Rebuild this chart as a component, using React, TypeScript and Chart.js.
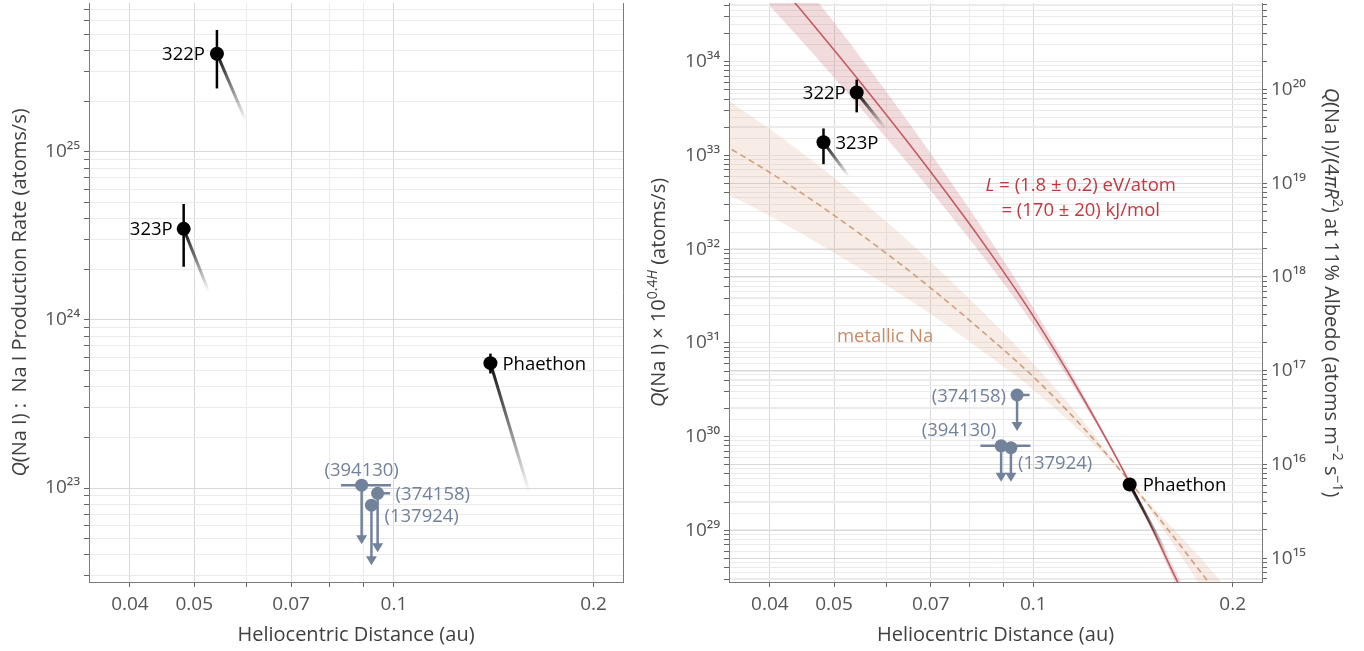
import React, { useEffect, useRef } from 'react';
import { Chart, registerables } from 'chart.js';

Chart.register(...registerables);

const FONT = "'Open Sans', 'DejaVu Sans', sans-serif";
const SUPS = '⁰¹²³⁴⁵⁶⁷⁸⁹';
const sup = (n: number) => String(n).split('').map((d) => SUPS[+d]).join('');

// ---------- axes ----------
const xMin = 0.0347;
const xMax = 0.2215;
const xTickValues = [0.04, 0.05, 0.06, 0.07, 0.08, 0.09, 0.1, 0.2];
const xTickLabels = ['0.04', '0.05', '', '0.07', '', '', '0.1', '0.2'];
const leftYMin = 2.76e22;
const leftYMax = 7.67e25;
const rightYMin = 2.81e28;
const rightYMax = 4.23e34;
const albedoYMin = 5.56e14;
const albedoYMax = 8.38e20;

// ---------- comets / Phaethon ----------
const objectNames = ['322P', '323P', 'Phaethon'];
const objectDist = [0.0541, 0.0482, 0.1398];
const tailDist = [0.0598, 0.0526, 0.16];
const leftQ = [3.83e25, 3.48e24, 5.53e23];
const leftQHigh = [5.3e25, 4.89e24, 6.3e23];
const leftQLow = [2.38e25, 2.07e24, 4.8e23];
const leftTailQ = [1.53e25, 1.47e24, 9.4e22];
const rightQ = [4.69e33, 1.38e33, 3.08e29];
const rightQHigh = [6.44e33, 1.94e33, 3.3e29];
const rightQLow = [2.88e33, 8.07e32, 2.9e29];
const rightTailQ = [1.94e33, 6.0e32, 5.2e28];

// ---------- upper limits ----------
const limitNames = ['(394130)', '(374158)', '(137924)'];
const limitDist = [0.0894, 0.0945, 0.0925];
const limitDistLow = [0.0832, 0.0945, 0.0925];
const limitDistHigh = [0.099, 0.0987, 0.0925];
const leftLimitQ = [1.04e23, 9.3e22, 7.9e22];
const leftLimitTip = [4.63e22, 4.15e22, 3.47e22];
const rightLimitQ = [7.98e29, 2.78e30, 7.6e29];
const rightLimitTip = [3.3e29, 1.15e30, 3.3e29];

// ---------- model curves (right panel) ----------
const sublimX = [0.04, 0.0447, 0.0551, 0.07, 0.0862, 0.0997, 0.1185, 0.1395, 0.1648, 0.175];
const sublimQ = [8.81e34, 3.47e34, 5.74e33, 6.65e32, 9.02e31, 1.99e31, 2.68e30, 3.31e29, 2.9e28, 1.17e28];
const sublimQHigh = [1.97e35, 7.24e34, 1.07e34, 1.05e33, 1.24e32, 2.44e31, 2.97e30, 3.39e29, 3.41e28, 1.47e28];
const sublimQLow = [3.94e34, 1.66e34, 3.08e33, 4.2e32, 6.53e31, 1.61e31, 2.42e30, 3.24e29, 2.47e28, 9.29e27];

const metalX = [0.033, 0.0348, 0.0407, 0.0485, 0.0597, 0.07, 0.0904, 0.0997, 0.1185, 0.1395, 0.1829, 0.2];
const metalQ = [1.48e33, 1.19e33, 6.08e32, 2.67e32, 9.25e31, 3.85e31, 8.3e30, 4.44e30, 1.28e30, 3.36e29, 2.94e28, 1.25e28];
const metalQHigh = [4.91e33, 3.77e33, 1.75e33, 6.86e32, 2.02e32, 7.33e31, 1.26e31, 6.12e30, 1.52e30, 3.44e29, 4.25e28, 1.98e28];
const metalQLow = [4.48e32, 3.77e32, 2.11e32, 1.04e32, 4.23e31, 2.02e31, 5.48e30, 3.21e30, 1.08e30, 3.28e29, 2.03e28, 7.87e27];

// ---------- annotations (right panel, data coordinates) ----------
const noteX = [0.0847, 0.0895, 0.0505];
const noteQ = [4.94e32, 2.69e32, 1.2e31];

// ---------- styles ----------
const BLACK = '#000000';
const SLATE = '#72829a';
const RED_LINE = '#c45a62';
const RED_BAND = 'rgba(196, 90, 98, 0.22)';
const TAN_LINE = '#d39c7b';
const TAN_BAND = 'rgba(214, 160, 130, 0.2)';
const RED_TEXT = '#c6363f';
const TAN_TEXT = '#c98b68';
const AXIS_TEXT = '#555555';
const TITLE_TEXT = '#404040';
const GRID_MAJOR = '#d9d9d9';
const GRID_MINOR = '#ebebeb';
const FRAME = '#7a7a7a';
const PAD = 4; // y tick padding = chart-area top offset

type Seg = { t: string; i?: boolean; s?: boolean };

function drawRich(
  ctx: CanvasRenderingContext2D,
  segs: Seg[],
  x: number,
  y: number,
  size: number,
  color: string,
  align: 'left' | 'center' | 'right',
  rot = 0
) {
  const fontOf = (g: Seg) => `${g.i ? 'italic ' : ''}${g.s ? Math.round(size * 0.68) : size}px ${FONT}`;
  ctx.save();
  ctx.translate(x, y);
  if (rot) ctx.rotate(rot);
  let w = 0;
  for (const g of segs) {
    ctx.font = fontOf(g);
    w += ctx.measureText(g.t).width;
  }
  let cx = align === 'left' ? 0 : align === 'center' ? -w / 2 : -w;
  ctx.fillStyle = color;
  ctx.textAlign = 'left';
  ctx.textBaseline = 'alphabetic';
  const base = size * 0.36;
  for (const g of segs) {
    ctx.font = fontOf(g);
    ctx.fillText(g.t, cx, g.s ? base - size * 0.42 : base);
    cx += ctx.measureText(g.t).width;
  }
  ctx.restore();
}

function logTickList(min: number, max: number) {
  const out: { value: number; major: boolean }[] = [];
  const e0 = Math.floor(Math.log10(min));
  const e1 = Math.ceil(Math.log10(max));
  for (let e = e0; e <= e1; e++) {
    for (let m = 1; m <= 9; m++) {
      const v = Number(`${m}e${e}`);
      if (v >= min && v <= max) out.push({ value: v, major: m === 1 });
    }
  }
  return out;
}

const gridColor = (c: any) => (c.tick && c.tick.major ? GRID_MAJOR : GRID_MINOR);
const tickFont = (size: number) => (c: any) => ({
  family: FONT,
  size,
  lineHeight: c.tick && c.tick.major ? 1.2 : 0,
});

function xScale() {
  return {
    type: 'logarithmic',
    min: xMin,
    max: xMax,
    bounds: 'data',
    afterBuildTicks: (s: any) => {
      s.ticks = xTickValues.map((v, i) => ({ value: v, major: xTickLabels[i] !== '' }));
    },
    afterFit: (s: any) => {
      s.height = 69;
    },
    ticks: {
      autoSkip: false,
      maxRotation: 0,
      padding: 6,
      color: AXIS_TEXT,
      font: tickFont(19),
      callback: (_v: any, i: number) => xTickLabels[i],
    },
    grid: { color: gridColor, tickLength: 5, tickColor: '#666666', lineWidth: 1 },
    border: { color: FRAME, z: 1 },
  };
}

function yScale(min: number, max: number, position: 'left' | 'right', width: number, drawGrid = true) {
  return {
    type: 'logarithmic',
    position,
    min,
    max,
    bounds: 'data',
    afterBuildTicks: (s: any) => {
      s.ticks = logTickList(min, max);
    },
    afterFit: (s: any) => {
      s.width = width;
    },
    ticks: {
      autoSkip: false,
      padding: PAD,
      color: AXIS_TEXT,
      font: tickFont(19),
      callback: (v: number, i: number, ticks: any[]) =>
        ticks[i] && ticks[i].major ? '10' + sup(Math.round(Math.log10(v))) : '',
    },
    grid: {
      color: gridColor,
      tickLength: 5,
      tickColor: '#666666',
      lineWidth: 1,
      drawOnChartArea: drawGrid,
    },
    border: { color: FRAME, z: 1 },
  };
}

function panelPlugin(panel: 'left' | 'right') {
  const isLeft = panel === 'left';
  const Q = isLeft ? leftQ : rightQ;
  const QHi = isLeft ? leftQHigh : rightQHigh;
  const QLo = isLeft ? leftQLow : rightQLow;
  const tailQ = isLeft ? leftTailQ : rightTailQ;
  const limQ = isLeft ? leftLimitQ : rightLimitQ;
  const limTip = isLeft ? leftLimitTip : rightLimitTip;
  const objDx = isLeft ? [-12, -11, 12] : [-11, 12, 13];
  const objAlign: any[] = isLeft ? ['right', 'right', 'left'] : ['right', 'left', 'left'];
  const limDx = isLeft ? [0, 18, 13] : [-5, -11, 7];
  const limDy = isLeft ? [-16, 0, 10] : [-16, 0, 15];
  const limAlign: any[] = isLeft ? ['center', 'left', 'left'] : ['right', 'right', 'left'];

  return {
    id: 'panel-' + panel,
    beforeDatasetDraw(chart: any, args: any) {
      const ds = chart.data.datasets[args.index];
      if (ds.label !== 'objects' && ds.label !== 'limits') return;
      const ctx: CanvasRenderingContext2D = chart.ctx;
      const xs = chart.scales.x;
      const ys = chart.scales.y;
      const a = chart.chartArea;
      ctx.save();
      ctx.beginPath();
      ctx.rect(a.left, a.top, a.right - a.left, a.bottom - a.top);
      ctx.clip();
      if (ds.label === 'objects') {
        for (let i = 0; i < objectNames.length; i++) {
          const x0 = xs.getPixelForValue(objectDist[i]);
          const y0 = ys.getPixelForValue(Q[i]);
          const x1 = xs.getPixelForValue(tailDist[i]);
          const y1 = ys.getPixelForValue(tailQ[i]);
          const g = ctx.createLinearGradient(x0, y0, x1, y1);
          g.addColorStop(0, 'rgba(0,0,0,0.95)');
          g.addColorStop(1, 'rgba(0,0,0,0)');
          ctx.strokeStyle = g;
          ctx.lineWidth = 3;
          ctx.lineCap = 'butt';
          ctx.beginPath();
          ctx.moveTo(x0, y0);
          ctx.lineTo(x1, y1);
          ctx.stroke();
          ctx.strokeStyle = BLACK;
          ctx.lineWidth = 2.5;
          ctx.beginPath();
          ctx.moveTo(x0, ys.getPixelForValue(QHi[i]));
          ctx.lineTo(x0, ys.getPixelForValue(QLo[i]));
          ctx.stroke();
        }
      } else {
        for (let i = 0; i < limitNames.length; i++) {
          const x0 = xs.getPixelForValue(limitDist[i]);
          const y0 = ys.getPixelForValue(limQ[i]);
          const yt = ys.getPixelForValue(limTip[i]);
          ctx.strokeStyle = SLATE;
          ctx.fillStyle = SLATE;
          ctx.lineWidth = 2.5;
          ctx.beginPath();
          ctx.moveTo(xs.getPixelForValue(limitDistLow[i]), y0);
          ctx.lineTo(xs.getPixelForValue(limitDistHigh[i]), y0);
          ctx.stroke();
          ctx.beginPath();
          ctx.moveTo(x0, y0);
          ctx.lineTo(x0, yt - 8);
          ctx.stroke();
          ctx.beginPath();
          ctx.moveTo(x0 - 5.5, yt - 9);
          ctx.lineTo(x0 + 5.5, yt - 9);
          ctx.lineTo(x0, yt);
          ctx.closePath();
          ctx.fill();
        }
      }
      ctx.restore();
    },
    afterDatasetsDraw(chart: any) {
      const ctx: CanvasRenderingContext2D = chart.ctx;
      const xs = chart.scales.x;
      const ys = chart.scales.y;
      const a = chart.chartArea;
      if (isLeft) {
        ctx.save();
        ctx.strokeStyle = FRAME;
        ctx.lineWidth = 1;
        ctx.beginPath();
        ctx.moveTo(Math.round(a.right) + 0.5, a.top);
        ctx.lineTo(Math.round(a.right) + 0.5, a.bottom);
        ctx.stroke();
        ctx.restore();
      }
      for (let i = 0; i < objectNames.length; i++) {
        drawRich(
          ctx,
          [{ t: objectNames[i] }],
          xs.getPixelForValue(objectDist[i]) + objDx[i],
          ys.getPixelForValue(Q[i]),
          18.5,
          BLACK,
          objAlign[i]
        );
      }
      for (let i = 0; i < limitNames.length; i++) {
        drawRich(
          ctx,
          [{ t: limitNames[i] }],
          xs.getPixelForValue(limitDist[i]) + limDx[i],
          ys.getPixelForValue(limQ[i]) + limDy[i],
          18.5,
          SLATE,
          limAlign[i]
        );
      }
      if (!isLeft) {
        drawRich(ctx, [{ t: 'L', i: true }, { t: ' = (1.8 ± 0.2) eV/atom' }],
          xs.getPixelForValue(noteX[0]), ys.getPixelForValue(noteQ[0]), 18.5, RED_TEXT, 'left');
        drawRich(ctx, [{ t: '= (170 ± 20) kJ/mol' }],
          xs.getPixelForValue(noteX[1]), ys.getPixelForValue(noteQ[1]), 18.5, RED_TEXT, 'left');
        drawRich(ctx, [{ t: 'metallic Na' }],
          xs.getPixelForValue(noteX[2]), ys.getPixelForValue(noteQ[2]), 18.5, TAN_TEXT, 'left');
      }
    },
    afterDraw(chart: any) {
      const ctx: CanvasRenderingContext2D = chart.ctx;
      const a = chart.chartArea;
      const cy = (a.top + a.bottom) / 2;
      drawRich(ctx, [{ t: 'Heliocentric Distance (au)' }], (a.left + a.right) / 2, PAD + 634, 20, TITLE_TEXT, 'center');
      if (isLeft) {
        drawRich(
          ctx,
          [{ t: 'Q', i: true }, { t: '(Na I) :  Na I Production Rate (atoms/s)' }],
          19, cy, 20, TITLE_TEXT, 'center', -Math.PI / 2
        );
      } else {
        drawRich(
          ctx,
          [{ t: 'Q', i: true }, { t: '(Na I) × 10' }, { t: '0.4', s: true }, { t: 'H', s: true, i: true }, { t: ' (atoms/s)' }],
          18, cy, 20, TITLE_TEXT, 'center', -Math.PI / 2
        );
        drawRich(
          ctx,
          [
            { t: 'Q', i: true },
            { t: '(Na I)/(4' },
            { t: 'π', i: true },
            { t: 'R', i: true },
            { t: '2', s: true },
            { t: ') at 11% Albedo (atoms m' },
            { t: '−2', s: true },
            { t: ' s' },
            { t: '−1', s: true },
            { t: ')' },
          ],
          692, cy, 20, TITLE_TEXT, 'center', Math.PI / 2
        );
      }
    },
  };
}

const pts = (xs: number[], ys: number[]) => xs.map((x, i) => ({ x, y: ys[i] }));

function objectDatasets(panel: 'left' | 'right') {
  const Q = panel === 'left' ? leftQ : rightQ;
  const L = panel === 'left' ? leftLimitQ : rightLimitQ;
  return [
    {
      label: 'objects',
      data: pts(objectDist, Q),
      showLine: false,
      pointRadius: 7,
      pointHoverRadius: 7,
      pointBackgroundColor: BLACK,
      pointBorderWidth: 0,
      borderColor: BLACK,
    },
    {
      label: 'limits',
      data: pts(limitDist, L),
      showLine: false,
      pointRadius: 6.5,
      pointHoverRadius: 6.5,
      pointBackgroundColor: SLATE,
      pointBorderWidth: 0,
      borderColor: SLATE,
    },
  ];
}

function leftConfig(): any {
  return {
    type: 'line',
    data: { datasets: objectDatasets('left') },
    options: {
      responsive: false,
      animation: false,
      devicePixelRatio: 1,
      layout: { padding: { left: 0, right: 17, top: 0, bottom: 0 } },
      plugins: { legend: { display: false }, tooltip: { enabled: false } },
      events: [],
      scales: {
        x: xScale(),
        y: yScale(leftYMin, leftYMax, 'left', 89),
      },
    },
    plugins: [panelPlugin('left')],
  };
}

function rightConfig(): any {
  const curve = (label: string, xs: number[], ys: number[], color: string, dash: number[]) => ({
    label,
    data: pts(xs, ys),
    borderColor: color,
    borderWidth: 1.6,
    borderDash: dash,
    pointRadius: 0,
    fill: false,
    cubicInterpolationMode: 'monotone',
  });
  const edge = (label: string, xs: number[], ys: number[], fill: any, bg: string) => ({
    label,
    data: pts(xs, ys),
    borderWidth: 0,
    borderColor: 'rgba(0,0,0,0)',
    backgroundColor: bg,
    pointRadius: 0,
    fill,
    cubicInterpolationMode: 'monotone',
  });
  return {
    type: 'line',
    data: {
      datasets: [
        ...objectDatasets('right'),
        curve('sublimation', sublimX, sublimQ, RED_LINE, []),
        curve('metallic', metalX, metalQ, TAN_LINE, [6, 4]),
        edge('sublimation-high', sublimX, sublimQHigh, '+1', RED_BAND),
        edge('sublimation-low', sublimX, sublimQLow, false, RED_BAND),
        edge('metallic-high', metalX, metalQHigh, '+1', TAN_BAND),
        edge('metallic-low', metalX, metalQLow, false, TAN_BAND),
      ],
    },
    options: {
      responsive: false,
      animation: false,
      devicePixelRatio: 1,
      layout: { padding: { left: 0, right: 0, top: 0, bottom: 0 } },
      plugins: { legend: { display: false }, tooltip: { enabled: false } },
      events: [],
      scales: {
        x: xScale(),
        y: yScale(rightYMin, rightYMax, 'left', 89),
        y2: yScale(albedoYMin, albedoYMax, 'right', 102),
      },
    },
    plugins: [panelPlugin('right')],
  };
}

export default function App() {
  const leftRef = useRef<HTMLCanvasElement>(null);
  const rightRef = useRef<HTMLCanvasElement>(null);
  useEffect(() => {
    const c1 = new Chart(leftRef.current as HTMLCanvasElement, leftConfig());
    const c2 = new Chart(rightRef.current as HTMLCanvasElement, rightConfig());
    return () => {
      c1.destroy();
      c2.destroy();
    };
  }, []);
  return (
    <div
      style={{
        position: 'fixed',
        left: 0,
        top: 0,
        width: 1364,
        height: 651,
        overflow: 'hidden',
        background: '#ffffff',
      }}
    >
      <canvas
        ref={leftRef}
        width={640}
        height={651 + PAD}
        style={{ position: 'absolute', left: 0, top: -PAD, width: 640, height: 651 + PAD }}
      />
      <canvas
        ref={rightRef}
        width={724}
        height={651 + PAD}
        style={{ position: 'absolute', left: 640, top: -PAD, width: 724, height: 651 + PAD }}
      />
    </div>
  );
}
